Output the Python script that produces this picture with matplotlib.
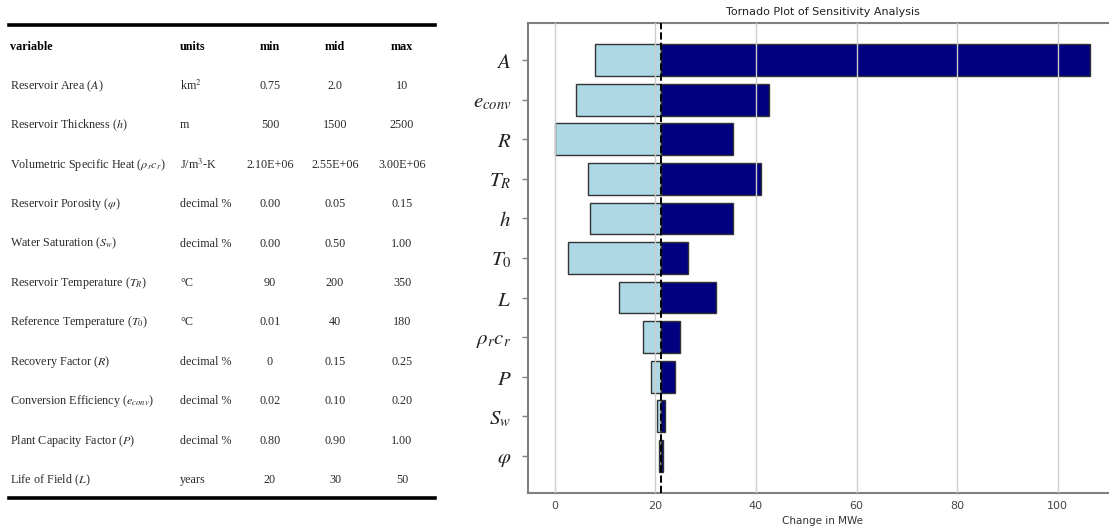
import matplotlib
matplotlib.use("Agg")
import matplotlib.pyplot as plt

plt.rcParams['mathtext.fontset'] = 'stix'

# table data
tab_vars = ["Reservoir Area ($A$)", "Reservoir Thickness ($h$)",
            r"Volumetric Specific Heat ($\rho_r c_r$)", r"Reservoir Porosity ($\varphi$)",
            "Water Saturation ($S_w$)", "Reservoir Temperature ($T_R$)",
            r"Reference Temperature ($T_{\mathit{0}}$)", "Recovery Factor ($R$)",
            "Conversion Efficiency ($e_{conv}$)", "Plant Capacity Factor ($P$)",
            "Life of Field ($L$)"]
tab_units = ["km$^2$", "m", "J/m$^3$-K", "decimal %", "decimal %", "\u00b0C", "\u00b0C",
             "decimal %", "decimal %", "decimal %", "years"]
tab_min = ["0.75", "500", "2.10E+06", "0.00", "0.00", "90", "0.01", "0", "0.02", "0.80", "20"]
tab_mid = ["2.0", "1500", "2.55E+06", "0.05", "0.50", "200", "40", "0.15", "0.10", "0.90", "30"]
tab_max = ["10", "2500", "3.00E+06", "0.15", "1.00", "350", "180", "0.25", "0.20", "1.00", "50"]

# tornado data (MWe)
labels = ["$A$", "$e_{conv}$", "$R$", "$T_R$", "$h$", r"$T_{\mathit{0}}$", "$L$",
          r"$\rho_r c_r$", "$P$", "$S_w$", r"$\varphi$"]
low = [7.95, 4.3, 0.0, 6.7, 7.0, 2.65, 12.7, 17.6, 19.1, 20.35, 20.7]
high = [106.5, 42.5, 35.5, 41.0, 35.5, 26.5, 32.0, 24.85, 24.0, 22.0, 21.5]
base = 21.1

fig = plt.figure(figsize=(11.09, 5.31), dpi=100)

# ---- table ----
axt = fig.add_axes([0, 0, 1, 1])
axt.set_xlim(0, 1109)
axt.set_ylim(531, 0)
axt.axis('off')
serif = 'Liberation Serif'
fs = 8.7
axt.plot([9, 435], [25, 25], color='black', lw=2.6)
axt.plot([9, 435], [498, 498], color='black', lw=2.6)
hy = 47
axt.text(10, hy, "variable", family=serif, weight='bold', fontsize=fs, va='center')
axt.text(180, hy, "units", family=serif, weight='bold', fontsize=fs, va='center')
axt.text(270, hy, "min", family=serif, weight='bold', fontsize=fs, va='center', ha='center')
axt.text(335, hy, "mid", family=serif, weight='bold', fontsize=fs, va='center', ha='center')
axt.text(402, hy, "max", family=serif, weight='bold', fontsize=fs, va='center', ha='center')
for i in range(len(tab_vars)):
    y = 86 + i * 39.4
    axt.text(10, y, tab_vars[i], family=serif, fontsize=fs, va='center', color='#2a2a2a')
    axt.text(180, y, tab_units[i], family=serif, fontsize=fs, va='center', color='#2a2a2a')
    axt.text(270, y, tab_min[i], family=serif, fontsize=fs, va='center', ha='center', color='#2a2a2a')
    axt.text(335, y, tab_mid[i], family=serif, fontsize=fs, va='center', ha='center', color='#2a2a2a')
    axt.text(402, y, tab_max[i], family=serif, fontsize=fs, va='center', ha='center', color='#2a2a2a')

# ---- tornado ----
ax = fig.add_axes([528 / 1109, 1 - 493 / 531, 589 / 1109, 470 / 531])
ypos = list(range(len(labels)))[::-1]
ax.barh(ypos, [base - l for l in low], left=low, height=0.8,
        color='lightblue', edgecolor='#333333', lw=1)
ax.barh(ypos, [h - base for h in high], left=base, height=0.8,
        color='navy', edgecolor='#333333', lw=1)
ax.axvline(base, color='black', ls='--', lw=1.4, zorder=5)
ax.set_xlim(-5.33, 111.8)
ax.set_ylim(-0.94, 10.94)
ax.set_yticks(ypos)
ax.set_yticklabels(labels, fontsize=15)
ax.set_xticks([0, 20, 40, 60, 80, 100])
ax.grid(axis='x', color='#cccccc', lw=1)
ax.set_axisbelow(False)
for s in ['left', 'bottom', 'top']:
    ax.spines[s].set_color('#808080')
    ax.spines[s].set_linewidth(1.5)
ax.spines['right'].set_visible(False)
ax.tick_params(axis='y', colors='#808080', length=4, width=1, labelcolor='#222222', pad=8)
ax.tick_params(axis='x', length=0, labelsize=8, labelcolor='#444444', pad=6)
ax.set_xlabel("Change in MWe", fontsize=7.5, color='#333333', labelpad=3)
ax.set_title("Tornado Plot of Sensitivity Analysis", fontsize=8, color='#222222', pad=6)

fig.savefig("out.png", dpi=100)
